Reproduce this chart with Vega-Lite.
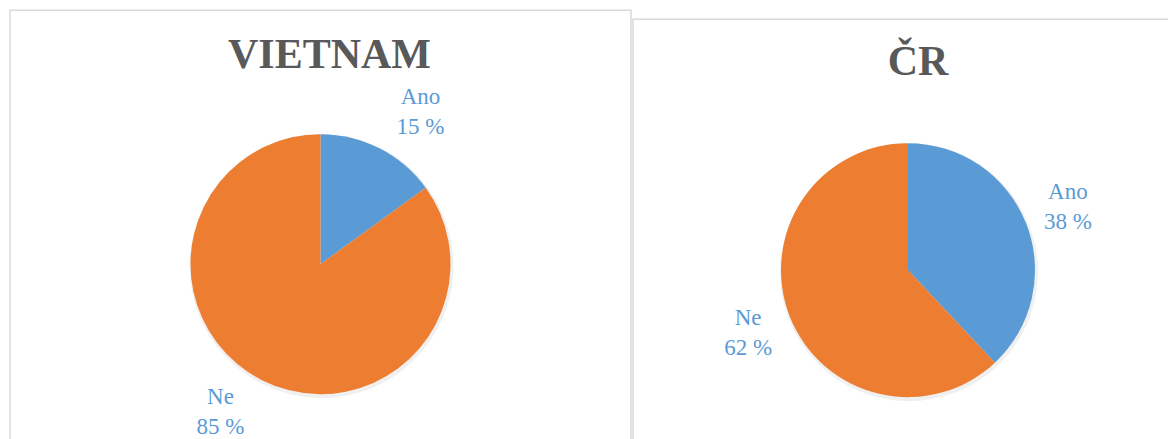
{
  "$schema": "https://vega.github.io/schema/vega-lite/v6.json",
  "padding": {"left": 9, "top": 9, "right": 0, "bottom": 0},
  "background": "white",
  "config": {"view": {"stroke": "#D9D9D9", "strokeWidth": 1.5}, "font": "Liberation Serif"},
  "spacing": 0,
  "center": true,
  "hconcat": [
    {
      "width": 621,
      "height": 508,
      "view": {"stroke": "#D9D9D9", "strokeWidth": 1.5, "fill": "white"},
      "title": {"text": "VIETNAM", "font": "Liberation Serif", "fontSize": 42, "fontWeight": "bold", "color": "#595959", "anchor": "middle", "baseline": "alphabetic", "offset": -100, "dx": 9},
      "data": {"values": [
        {"odpoved": "Ano", "podil": 15, "label": "Ano\n15 %"},
        {"odpoved": "Ne", "podil": 85, "label": "Ne\n85 %"}
      ]},
      "encoding": {"theta": {"field": "podil", "type": "quantitative", "stack": true}},
      "layer": [
        {
          "mark": {"type": "arc", "outerRadius": 132, "xOffset": 1, "yOffset": 2, "color": "#000000", "opacity": 0.06}
        },
        {
          "mark": {"type": "arc", "outerRadius": 130},
          "encoding": {"color": {"field": "odpoved", "type": "nominal", "scale": {"domain": ["Ano", "Ne"], "range": ["#5B9BD5", "#ED7D31"]}, "legend": null}}
        },
        {
          "mark": {"type": "text", "radius": 180, "thetaOffset": 0.118, "yOffset": -17, "fontSize": 23, "lineBreak": "\n", "lineHeight": 30, "color": "#5B9BD5", "align": "center", "baseline": "middle", "font": "Liberation Serif"},
          "encoding": {"text": {"field": "label", "type": "nominal"}}
        }
      ]
    },
    {
      "width": 536,
      "height": 490,
      "view": {"stroke": "#D9D9D9", "strokeWidth": 1.5, "fill": "white"},
      "title": {"text": "ČR", "font": "Liberation Serif", "fontSize": 42, "fontWeight": "bold", "color": "#595959", "anchor": "middle", "baseline": "alphabetic", "offset": -98, "dx": 17},
      "data": {"values": [
        {"odpoved": "Ano", "podil": 38, "label": "Ano\n38 %"},
        {"odpoved": "Ne", "podil": 62, "label": "Ne\n62 %"}
      ]},
      "encoding": {"theta": {"field": "podil", "type": "quantitative", "stack": true}},
      "layer": [
        {
          "mark": {"type": "arc", "outerRadius": 129, "xOffset": 8, "yOffset": 8, "color": "#000000", "opacity": 0.06}
        },
        {
          "mark": {"type": "arc", "outerRadius": 127, "xOffset": 7, "yOffset": 6},
          "encoding": {"color": {"field": "odpoved", "type": "nominal", "scale": {"domain": ["Ano", "Ne"], "range": ["#5B9BD5", "#ED7D31"]}, "legend": null}}
        },
        {
          "mark": {"type": "text", "radius": 172, "xOffset": 7, "yOffset": -9, "fontSize": 23, "lineBreak": "\n", "lineHeight": 30, "color": "#5B9BD5", "align": "center", "baseline": "middle", "font": "Liberation Serif"},
          "encoding": {"text": {"field": "label", "type": "nominal"}}
        }
      ]
    }
  ]
}
